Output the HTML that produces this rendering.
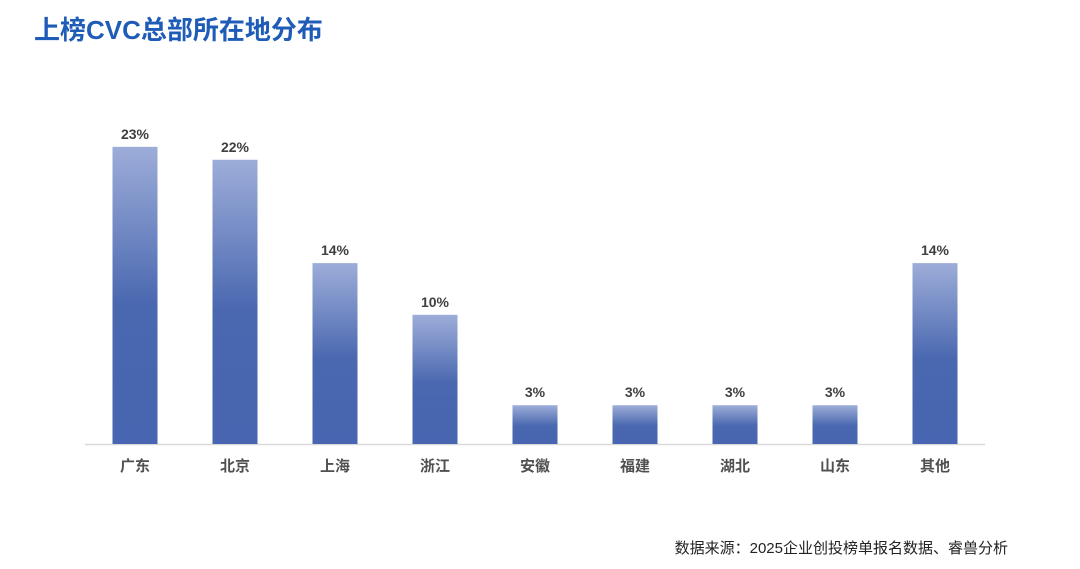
<!DOCTYPE html>
<html><head><meta charset="utf-8"><style>
body{margin:0;width:1080px;height:569px;background:#fff;overflow:hidden;font-family:"Liberation Sans","Noto Sans CJK SC",sans-serif;}
.title{position:absolute;left:34px;top:10px;font-size:26px;font-weight:bold;color:#1f5cb8;}
.src{position:absolute;right:72px;top:537px;font-size:15px;color:#222;}
</style></head><body>
<div class="title">上榜CVC总部所在地分布</div>
<svg id="chart" width="1080" height="569" style="position:absolute;left:0;top:0">
<defs><linearGradient id="g" x1="0" y1="0" x2="0" y2="1">
<stop offset="0" stop-color="#9dadd9"/><stop offset="0.53" stop-color="#4a68b0"/><stop offset="1" stop-color="#4765b0"/></linearGradient></defs>
</svg>
<div class="src">数据来源：2025企业创投榜单报名数据、睿兽分析</div>
<script>
const categories=["广东","北京","上海","浙江","安徽","福建","湖北","山东","其他"];
const values=[23,22,14,10,3,3,3,3,14];
const labels=["23%","22%","14%","10%","3%","3%","3%","3%","14%"];
const svg=document.getElementById('chart');
const NS='http://www.w3.org/2000/svg';
const base=444, scale=12.92, x0=135, step=100, bw=45;
const xs=i=>x0+i*step, ys=v=>base-v*scale;
const axis=document.createElementNS(NS,'line');
axis.setAttribute('x1',85);axis.setAttribute('x2',985);axis.setAttribute('y1',base+0.5);axis.setAttribute('y2',base+0.5);
axis.setAttribute('stroke','#d9d9d9');axis.setAttribute('stroke-width',1.5);


svg.appendChild(axis);
values.forEach((v,i)=>{
 const r=document.createElementNS(NS,'rect');
 r.setAttribute('x',xs(i)-bw/2);r.setAttribute('y',ys(v));r.setAttribute('width',bw);r.setAttribute('height',base-ys(v));r.setAttribute('fill','url(#g)');
 
 
 svg.appendChild(r);
 const t=document.createElementNS(NS,'text');
 t.setAttribute('x',xs(i));t.setAttribute('y',ys(v)-8);t.setAttribute('text-anchor','middle');
 t.setAttribute('font-size','14');t.setAttribute('font-weight','bold');t.setAttribute('fill','#404040');
 t.textContent=labels[i];
 
 
 svg.appendChild(t);
 const c=document.createElementNS(NS,'text');
 c.setAttribute('x',xs(i));c.setAttribute('y',471);c.setAttribute('text-anchor','middle');
 c.setAttribute('font-size','15');c.setAttribute('font-weight','bold');c.setAttribute('fill','#505050');
 c.setAttribute('font-family','"Liberation Sans","Noto Sans CJK SC",sans-serif');
 c.textContent=categories[i];
 
 
 svg.appendChild(c);
});
</script>
</body></html>
